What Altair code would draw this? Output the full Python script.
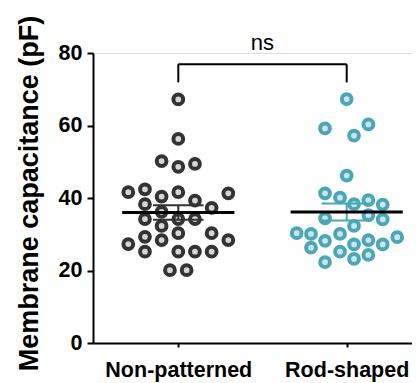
import altair as alt
import numpy as np
import pandas as pd

groups = ["Non-patterned", "Rod-shaped"]
group_pos = [1, 2]
stroke_colors = ["#333333", "#4aa8b5"]
fill_colors = ["#d6d6d6", "#cfe3f6"]

np_values = [67.2, 56.3, 50.2, 48.6, 49.4, 41.6, 42.4, 40.4, 41.6, 39.3, 41.3, 38.3, 37.3, 36.2,
             34.2, 34.2, 34.2, 32.3, 30.3, 30.3, 29.3, 28.4, 28.4, 27.3, 25.2, 25.2, 25.2, 25.2,
             20.1, 20.1]
np_slots = [0, 0, -1, 0, 1, -3, -2, -1, 0, 1, 3, -2, 2, -1,
            -2, 0, 1, -1, 0, 2, -2, -1, 3, -3, -2, 0, 1, 2,
            -0.5, 0.5]

rod_values = [67.3, 59.2, 57.2, 60.3, 46.2, 41.3, 40.1, 38.3, 39.4, 38.2, 34.4, 35.3, 34.1, 32.3,
              30.3, 30.1, 30.1, 29.2, 28.2, 26.3, 27.2, 28.4, 27.2, 25.2, 24.3, 23.2, 22.3]
rod_slots = [0, -1.3, 0.44, 1.3, 0, -1.3, -0.4, 0.44, 1.3, 2.16, -1.3, 1.3, 2.16, 0.44,
             -3, -2.14, -0.4, 3.03, -1.3, -2.14, 0.44, 1.3, 2.16, -0.4, 1.3, 0.44, -1.3]

y_ticks = [0, 20, 40, 60, 80]
sig_label = "ns"
y_title = "Membrane capacitance (pF)"

slot_unit = 0.099
rows = []
for g, pos, vals, slots in [(groups[0], group_pos[0], np_values, np_slots),
                            (groups[1], group_pos[1], rod_values, rod_slots)]:
    for v, s in zip(vals, slots):
        rows.append({"group": g, "x": pos + s * slot_unit, "value": v})
pts = pd.DataFrame(rows)

summ = []
for g, pos, vals in [(groups[0], group_pos[0], np_values), (groups[1], group_pos[1], rod_values)]:
    a = np.array(vals)
    m = a.mean()
    sem = a.std(ddof=1) / np.sqrt(len(a))
    summ.append({"group": g, "pos": pos, "mean": m, "lo": m - sem, "hi": m + sem,
                 "ml": pos - 0.333, "mr": pos + 0.333, "cl": pos - 0.15, "cr": pos + 0.15})
summ = pd.DataFrame(summ)

xscale = alt.Scale(domain=[0.4935, 2.3878], nice=False, zero=False)
yscale = alt.Scale(domain=[0, 80], nice=False)
fill_scale = alt.Scale(domain=groups, range=fill_colors)
stroke_scale = alt.Scale(domain=groups, range=stroke_colors)

xaxis = alt.Axis(values=group_pos, labelExpr="datum.value == 1 ? 'Non-patterned' : 'Rod-shaped'",
                 title=None, grid=False, domainColor="black", domainWidth=2, tickColor="black",
                 tickWidth=2, tickSize=4, labelFont="Liberation Sans", labelFontWeight="bold",
                 labelFontSize=21.5, labelColor="black", labelBaseline="alphabetic", labelPadding=29)
yaxis = alt.Axis(values=y_ticks, title=y_title, grid=False, domainColor="black", domainWidth=2,
                 tickColor="black", tickWidth=2, tickSize=6, labelFont="Liberation Sans",
                 labelFontWeight="bold", labelFontSize=21.5, labelColor="black", labelPadding=5,
                 titleFont="Liberation Sans", titleFontWeight="bold", titleFontSize=27,
                 titleColor="black", titleBaseline="alphabetic", titleX=-56, titleY=140)

points = alt.Chart(pts).mark_circle(size=95, strokeWidth=4, opacity=1).encode(
    x=alt.X("x:Q", scale=xscale, axis=xaxis),
    y=alt.Y("value:Q", scale=yscale, axis=yaxis),
    fill=alt.Fill("group:N", scale=fill_scale, legend=None),
    stroke=alt.Stroke("group:N", scale=stroke_scale, legend=None),
)

base = alt.Chart(summ)
err_v = base.mark_rule(strokeWidth=2).encode(
    x=alt.X("pos:Q", scale=xscale), y=alt.Y("lo:Q", scale=yscale), y2="hi:Q",
    color=alt.Color("group:N", scale=stroke_scale, legend=None))
cap_hi = base.mark_rule(strokeWidth=2).encode(
    x=alt.X("cl:Q", scale=xscale), x2="cr:Q", y=alt.Y("hi:Q", scale=yscale),
    color=alt.Color("group:N", scale=stroke_scale, legend=None))
cap_lo = base.mark_rule(strokeWidth=2).encode(
    x=alt.X("cl:Q", scale=xscale), x2="cr:Q", y=alt.Y("lo:Q", scale=yscale),
    color=alt.Color("group:N", scale=stroke_scale, legend=None))
mean_line = base.mark_rule(strokeWidth=3, color="black").encode(
    x=alt.X("ml:Q", scale=xscale), x2="mr:Q", y=alt.Y("mean:Q", scale=yscale))

bracket_top = pd.DataFrame({"x1": [group_pos[0]], "x2": [group_pos[1]], "y": [76.9]})
bracket_legs = pd.DataFrame({"x": group_pos, "y1": [71.9, 71.9], "y2": [76.9, 76.9]})
br1 = alt.Chart(bracket_top).mark_rule(strokeWidth=2, color="black", clip=False).encode(
    x=alt.X("x1:Q", scale=xscale), x2="x2:Q", y=alt.Y("y:Q", scale=yscale))
br2 = alt.Chart(bracket_legs).mark_rule(strokeWidth=2, color="black", clip=False).encode(
    x=alt.X("x:Q", scale=xscale), y=alt.Y("y1:Q", scale=yscale), y2="y2:Q")
ns = alt.Chart(pd.DataFrame({"x": [1.5], "y": [80.8], "t": [sig_label]})).mark_text(
    font="Liberation Sans", fontSize=22, color="black", baseline="alphabetic", align="center",
    clip=False).encode(x=alt.X("x:Q", scale=xscale), y=alt.Y("y:Q", scale=yscale), text="t:N")

chart = alt.layer(points, err_v, cap_hi, cap_lo, mean_line, br1, br2, ns).properties(
    width=319, height=290,
    autosize=alt.AutoSizeParams(type="none"),
    padding={"left": 85, "top": 45, "right": 0, "bottom": 39},
).configure_view(stroke=None).configure(background="white")

chart.save("out.html", embed_options={"renderer": "svg", "actions": False})
